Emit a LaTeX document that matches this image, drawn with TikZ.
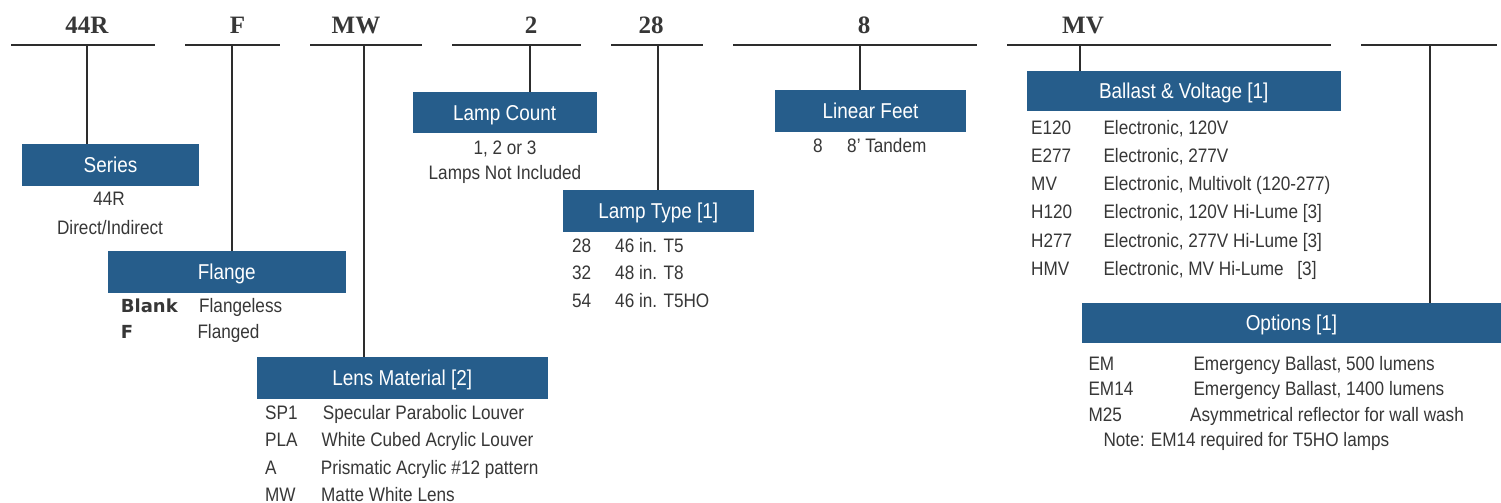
\documentclass[tikz,border=0pt]{standalone}
\usepackage{fontspec}
\setmainfont{Liberation Sans}[FakeStretch=0.88]
\newfontfamily\codefont{Liberation Serif}
\newfontfamily\keyfont{DejaVu Sans}
\definecolor{boxblue}{RGB}{38,93,139}
\definecolor{ink}{RGB}{55,55,55}
\definecolor{rulec}{RGB}{45,45,45}
\begin{document}
\begin{tikzpicture}[x=1pt,y=-1pt,
  bar/.style={draw=rulec,line width=2.8pt},
  hdr/.style={fill=boxblue,draw=none,text=white,font=\fontsize{21.5}{24}\selectfont,inner sep=0pt,text height=15pt,text depth=0pt},
  row/.style={text=ink,font=\fontsize{19.5}{22}\selectfont,anchor=base west,inner sep=0pt},
  rowc/.style={row,anchor=base},
  code/.style={text=ink,font=\codefont\bfseries\fontsize{25}{28}\selectfont,anchor=base,inner sep=0pt},
  keyc/.style={text=ink,font=\keyfont\bfseries\fontsize{18}{20}\selectfont,anchor=base west,inner sep=0pt}]
\useasboundingbox (0,0) rectangle (1501,503);
\fill[white] (0,0) rectangle (1501,503);

% top line segments
\coordinate (a1) at (11,45);   \coordinate (b1) at (155,45);
\coordinate (a2) at (185,45);  \coordinate (b2) at (280,45);
\coordinate (a3) at (310,45);  \coordinate (b3) at (422,45);
\coordinate (a4) at (452,45);  \coordinate (b4) at (581,45);
\coordinate (a5) at (611,45);  \coordinate (b5) at (703,45);
\coordinate (a6) at (733,45);  \coordinate (b6) at (977,45);
\coordinate (a7) at (1007,45); \coordinate (b7) at (1331,45);
\coordinate (a8) at (1361,45); \coordinate (b8) at (1497,45);
\foreach \i in {1,...,8} {\draw[bar] (a\i) -- (b\i);}

% stem roots
\coordinate (t1) at (87,45);
\coordinate (t2) at (232,45);
\coordinate (t3) at (364,45);
\coordinate (t4) at (530,45);
\coordinate (t5) at (658,45);
\coordinate (t6) at (860,45);
\coordinate (t7) at (1080,45);
\coordinate (t8) at (1430,45);

% top codes
\node[code] (c1) at (87,33.5) {44R};
\node[code] (c2) at (237.5,33.5) {F};
\node[code] (c3) at (356,33.5) {MW};
\node[code] (c4) at (531,33.5) {2};
\node[code] (c5) at (651,33.5) {28};
\node[code] (c6) at (864,33.5) {8};
\node[code] (c7) at (1083,33.5) {MV};

% header boxes
\node[hdr,minimum width=177pt,minimum height=41.7pt] (series) at (110.5,164.85) {Series};
\node[hdr,minimum width=237.7pt,minimum height=41.7pt] (flange) at (226.85,271.85) {Flange};
\node[hdr,minimum width=291pt,minimum height=41.7pt] (lens) at (402.2,378.15) {Lens Material [2]};
\node[hdr,minimum width=184pt,minimum height=41.3pt] (count) at (504.7,112.65) {Lamp Count};
\node[hdr,minimum width=191pt,minimum height=41.7pt] (type) at (658.2,210.85) {Lamp Type [1]};
\node[hdr,minimum width=191pt,minimum height=41.7pt] (feet) at (870.5,110.85) {Linear Feet};
\node[hdr,minimum width=314pt,minimum height=39.7pt] (ballast) at (1183.7,90.85) {Ballast \& Voltage [1]};
\node[hdr,minimum width=419pt,minimum height=39.4pt] (options) at (1291.5,323) {Options [1]};

% stems
\draw[bar] (t1) -- (t1 |- series.north);
\draw[bar] (t2) -- (t2 |- flange.north);
\draw[bar] (t3) -- (t3 |- lens.north);
\draw[bar] (t4) -- (t4 |- count.north);
\draw[bar] (t5) -- (t5 |- type.north);
\draw[bar] (t6) -- (t6 |- feet.north);
\draw[bar] (t7) -- (t7 |- ballast.north);
\draw[bar] (t8) -- (t8 |- options.north);

% Series
\node[rowc] (s1) at (109,205.7) {44R};
\node[rowc] (s2) at (110,234) {Direct/Indirect};

% Flange
\node[keyc] (f1k) at (120.7,312.7) {Blank};
\node[row] (f1d) at (199,312.7) {Flangeless};
\node[keyc] (f2k) at (120.7,338.3) {F};
\node[row] (f2d) at (197.3,338.3) {Flanged};

% Lens
\node[row] (l1k) at (265,419.3) {SP1};
\node[row] (l1d) at (322.7,419.3) {Specular Parabolic Louver};
\node[row] (l2k) at (265,446.7) {PLA};
\node[row] (l2d) at (321.5,446.7) {White Cubed Acrylic Louver};
\node[row] (l3k) at (265,474.5) {A};
\node[row] (l3d) at (320.7,474.5) {Prismatic Acrylic \#12 pattern};
\node[row] (l4k) at (265,501.7) {MW};
\node[row] (l4d) at (321,501.7) {Matte White Lens};

% Lamp count
\node[rowc] (n1) at (505,154) {1, 2 or 3};
\node[rowc] (n2) at (505,179) {Lamps Not Included};

% Lamp type
\node[row] (y1k) at (572,252) {28};
\node[row] (y1d) at (615,252) {46 in. T5};
\node[row] (y2k) at (572,279.5) {32};
\node[row] (y2d) at (615,279.5) {48 in. T8};
\node[row] (y3k) at (572,307) {54};
\node[row] (y3d) at (615,307) {46 in. T5HO};

% Linear feet
\node[row] (e1k) at (813,152) {8};
\node[row] (e1d) at (847,152) {8’ Tandem};

% Ballast
\node[row] (b1k) at (1031,134) {E120};
\node[row] (b1d) at (1103.3,134) {Electronic, 120V};
\node[row] (b2k) at (1031,162.3) {E277};
\node[row] (b2d) at (1103.3,162.3) {Electronic, 277V};
\node[row] (b3k) at (1031,190.6) {MV};
\node[row] (b3d) at (1103.3,190.6) {Electronic, Multivolt (120-277)};
\node[row] (b4k) at (1031,218.9) {H120};
\node[row] (b4d) at (1103.3,218.9) {Electronic, 120V Hi-Lume [3]};
\node[row] (b5k) at (1031,247.2) {H277};
\node[row] (b5d) at (1103.3,247.2) {Electronic, 277V Hi-Lume [3]};
\node[row] (b6k) at (1031,275.5) {HMV};
\node[row] (b6d) at (1103.3,275.5) {Electronic, MV Hi-Lume\hspace{9pt} [3]};

% Options
\node[row] (o1k) at (1088.3,370) {EM};
\node[row] (o1d) at (1193.3,370) {Emergency Ballast, 500 lumens};
\node[row] (o2k) at (1088.3,395.7) {EM14};
\node[row] (o2d) at (1193.3,395.7) {Emergency Ballast, 1400 lumens};
\node[row] (o3k) at (1088.3,421) {M25};
\node[row] (o3d) at (1190,421) {Asymmetrical reflector for wall wash};
\node[row] (o4) at (1103.3,446.7) {Note: EM14 required for T5HO lamps};
\end{tikzpicture}
\end{document}
